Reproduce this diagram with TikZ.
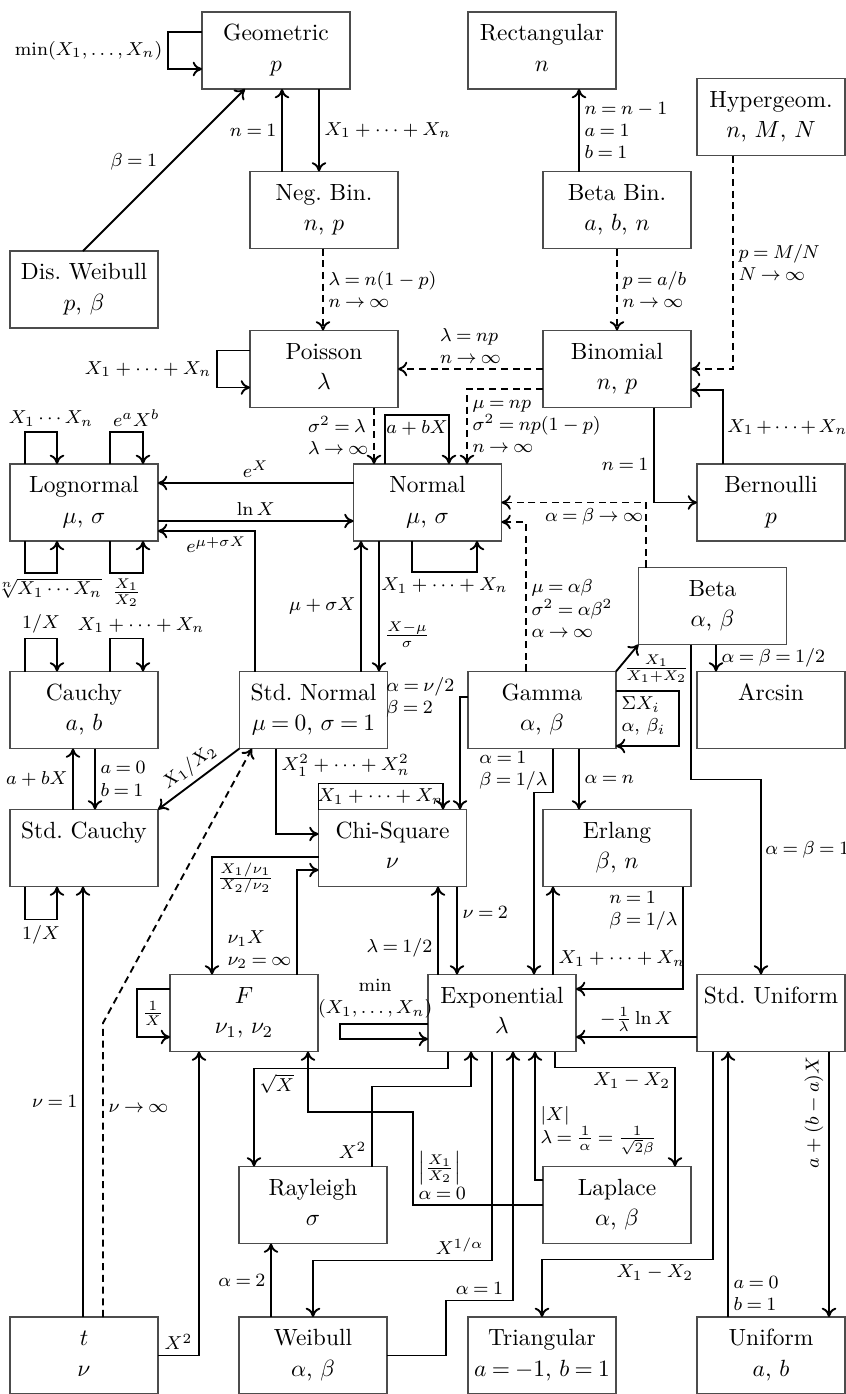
\documentclass[tikz,border=0pt]{standalone}
\usepackage{amsmath}
\usepackage{amssymb}
\usetikzlibrary{arrows.meta,calc}
\newcommand{\distbox}[2]{\strut #1\\[1pt]\strut #2}
\thickmuskip=4mu plus 2mu

\begin{document}
\begin{tikzpicture}[
    x=0.15mm, y=-0.15mm,
    dist/.style={rectangle, draw=black!70, line width=0.6pt, minimum width=22.2mm, minimum height=11.55mm, inner sep=0pt, outer sep=0pt, align=center},
    arrow/.style={thick,->,>={Computer Modern Rightarrow[length=1.4mm,width=2.2mm]}},
    limit/.style={arrow, densely dashed},
    lbl/.style={font=\footnotesize, inner sep=2pt, align=left}
]
    \useasboundingbox (0,0) rectangle (846,1394);

    \node (geo) [dist] at (276,50.5) {\distbox{Geometric}{$p$}};
    \node (rect) [dist] at (542,50.5) {\distbox{Rectangular}{$n$}};
    \node (hyper) [dist] at (771,117) {\distbox{Hypergeom.}{$n$, $M$, $N$}};
    \node (negbin) [dist] at (324,210) {\distbox{Neg.\ Bin.}{$n$, $p$}};
    \node (betabin) [dist] at (617,210) {\distbox{Beta Bin.}{$a$, $b$, $n$}};
    \node (disw) [dist] at (84,289.5) {\distbox{Dis.\ Weibull}{$p$, $\beta$}};
    \node (poisson) [dist] at (324,369) {\distbox{Poisson}{$\lambda$}};
    \node (binom) [dist] at (617,369) {\distbox{Binomial}{$n$, $p$}};
    \node (logn) [dist] at (84,502.5) {\distbox{Lognormal}{$\mu$, $\sigma$}};
    \node (normal) [dist] at (427.5,502.5) {\distbox{Normal}{$\mu$, $\sigma$}};
    \node (bern) [dist] at (771,502.5) {\distbox{Bernoulli}{$p$}};
    \node (beta) [dist] at (712.5,606) {\distbox{Beta}{$\alpha$, $\beta$}};
    \node (cauchy) [dist] at (84,710) {\distbox{Cauchy}{$a$, $b$}};
    \node (stdn) [dist] at (313.5,710) {\distbox{Std.\ Normal}{$\mu=0$, $\sigma=1$}};
    \node (gamma) [dist] at (542,710) {\distbox{Gamma}{$\alpha$, $\beta$}};
    \node (arcsin) [dist] at (771,710) {\distbox{Arcsin}{}};
    \node (stdc) [dist] at (84,848) {\distbox{Std.\ Cauchy}{}};
    \node (chi) [dist] at (392.5,848) {\distbox{Chi-Square}{$\nu$}};
    \node (erlang) [dist] at (617,848) {\distbox{Erlang}{$\beta$, $n$}};
    \node (fdist) [dist] at (244,1013) {\distbox{$F$}{$\nu_1$, $\nu_2$}};
    \node (expo) [dist] at (502,1013) {\distbox{Exponential}{$\lambda$}};
    \node (stdu) [dist] at (771,1013) {\distbox{Std.\ Uniform}{}};
    \node (ray) [dist] at (313,1205) {\distbox{Rayleigh}{$\sigma$}};
    \node (lap) [dist] at (617,1205) {\distbox{Laplace}{$\alpha$, $\beta$}};
    \node (tdist) [dist] at (84,1355.5) {\distbox{$t$}{$\nu$}};
    \node (weib) [dist] at (313,1355.5) {\distbox{Weibull}{$\alpha$, $\beta$}};
    \node (tri) [dist] at (542,1355.5) {\distbox{Triangular}{$a=-1$, $b=1$}};
    \node (unif) [dist] at (771,1355.5) {\distbox{Uniform}{$a$, $b$}};

    % geometric, negative binomial
    \draw [arrow] ($(geo.west)+(0,-18.5)$) -- ++(-34,0) |- node[lbl,pos=0.25,left]{$\min(X_1, \ldots, X_n)$} ($(geo.west)+(0,18.5)$);
    \draw [arrow] ($(disw.north)+(-1,0)$) -- node[lbl,pos=0.55,left=4pt]{$\beta=1$} ($(geo.south)+(-31,0)$);
    \draw [arrow] ($(negbin.north)+(-42,0)$) coordinate (p) -- node[lbl,left]{$n=1$} (p |- geo.south);
    \draw [arrow] ($(geo.south)+(43,0)$) coordinate (p) -- node[lbl,right]{$X_1+\cdots+X_n$} (p |- negbin.north);
    \draw [limit] ($(negbin.south)+(-1,0)$) coordinate (p) -- node[lbl,right]{$\lambda=n(1-p)$\\$n\to\infty$} (p |- poisson.north);

    % beta binomial, hypergeometric
    \draw [arrow] ($(betabin.north)+(-38,0)$) coordinate (p) -- node[lbl,right]{$n=n-1$\\$a=1$\\$b=1$} (p |- rect.south);
    \draw [limit] (betabin.south) -- node[lbl,right]{$p=a/b$\\$n\to\infty$} (binom.north);
    \draw [limit] ($(hyper.south)+(-38,0)$) |- node[lbl,pos=0.25,right]{$p=M/N$\\$N\to\infty$} (binom.east);

    % poisson, binomial
    \draw [arrow] ($(poisson.west)+(0,-18.5)$) -- ++(-33,0) |- node[lbl,pos=0.25,left]{$X_1+\cdots+X_n$} ($(poisson.west)+(0,18.5)$);
    \draw [limit] (binom.west) -- node[lbl,above]{$\lambda=np$\\$n\to\infty$} (poisson.east);
    \draw [limit] ($(binom.west)+(0,20)$) -| node[lbl,pos=0.75,right]{$\mu=np$\\$\sigma^2=np(1-p)$\\$n\to\infty$} ($(normal.north)+(39.5,0)$);
    \draw [limit] ($(poisson.south)+(50,0)$) coordinate (p) -- node[lbl,left]{$\sigma^2=\lambda$\\$\lambda\to\infty$} (p |- normal.north);
    \draw [arrow] ($(binom.south)+(37,0)$) |- node[lbl,pos=0.3,left]{$n=1$} (bern.west);
    \draw [arrow] ($(bern.north)+(-48,0)$) |- node[lbl,pos=0.25,right,inner sep=1.5pt]{\medmuskip=2.5mu $X_1+\cdots+X_n$} ($(binom.east)+(0,21)$);

    % normal, lognormal
    \draw [arrow] ($(normal.north)+(-42.5,0)$) -- ++(0,-49) -| node[lbl,pos=0.25,below]{$a+bX$} ($(normal.north)+(21.5,0)$);
    \draw [arrow] ($(normal.west)+(0,-19.5)$) coordinate (p) -- node[lbl,above]{$e^X$} (p -| logn.east);
    \draw [arrow] ($(logn.east)+(0,18.5)$) coordinate (p) -- node[lbl,above]{$\ln X$} (p -| normal.west);
    \draw [arrow] ($(stdn.north)+(-58.5,0)$) |- node[lbl,pos=0.7,below]{$e^{\mu+\sigma X}$} ($(logn.east)+(0,28.5)$);
    \draw [arrow] ($(logn.north)+(-59,0)$) -- ++(0,-32) -| node[lbl,pos=0.25,above,xshift=1.5mm]{$X_1\cdots X_n$} ($(logn.north)+(-27,0)$);
    \draw [arrow] ($(logn.north)+(26,0)$) -- ++(0,-32) -| node[lbl,pos=0.25,above,xshift=1.5mm]{$e^aX^b$} ($(logn.north)+(59,0)$);
    \draw [arrow] ($(logn.south)+(-59,0)$) -- ++(0,32) -| node[lbl,pos=0.25,below,xshift=1.2mm]{$\sqrt[n]{X_1\cdots X_n}$} ($(logn.south)+(-27,0)$);
    \draw [arrow] ($(logn.south)+(26,0)$) -- ++(0,32) -| node[lbl,pos=0.25,below]{$\frac{X_1}{X_2}$} ($(logn.south)+(59,0)$);
    \draw [arrow] ($(stdn.north)+(47.5,0)$) coordinate (p) -- node[lbl,left]{$\mu+\sigma X$} (p |- normal.south);
    \draw [arrow] ($(normal.south)+(-48.5,0)$) coordinate (p) -- node[lbl,pos=0.72,right]{$\frac{X-\mu}{\sigma}$} (p |- stdn.north);
    \draw [arrow] ($(normal.south)+(-15.5,0)$) -- ++(0,31) -| node[lbl,pos=0.25,below]{$X_1+\cdots+X_n$} ($(normal.south)+(49.5,0)$);

    % cauchy
    \draw [arrow] ($(cauchy.north)+(-59,0)$) -- ++(0,-33) -| node[lbl,pos=0.25,above]{$1/X$} ($(cauchy.north)+(-27,0)$);
    \draw [arrow] ($(cauchy.north)+(26,0)$) -- ++(0,-33) -| node[lbl,pos=0.25,above,xshift=2.2mm]{$X_1+\cdots+X_n$} ($(cauchy.north)+(59,0)$);
    \draw [arrow] ($(stdc.north)+(-11,0)$) coordinate (p) -- node[lbl,left]{$a+bX$} (p |- cauchy.south);
    \draw [arrow] ($(cauchy.south)+(11,0)$) coordinate (p) -- node[lbl,right]{$a=0$\\$b=1$} (p |- stdc.north);
    \draw [arrow] ($(stdc.south)+(-59,0)$) -- ++(0,33) -| node[lbl,pos=0.25,below]{$1/X$} ($(stdc.south)+(-27,0)$);
    \draw [arrow,<-] (stdc.north east) -- node[lbl,sloped,above]{$X_1/X_2$} (stdn.south west);

    % t
    \draw [limit] ($(tdist.north)+(19,0)$) -- node[lbl,pos=0.71,right]{$\nu\to\infty$} ++(0,-294) -- ($(stdn.south)+(-61.5,0)$);
    \draw [arrow] ($(tdist.north)+(-1,0)$) coordinate (p) -- node[lbl,left]{$\nu=1$} (p |- stdc.south);
    \draw [arrow] (tdist.east) -| node[lbl,pos=0.25,above]{$X^2$} ($(fdist.south)+(-45,0)$);

    % chi-square, F
    \draw [arrow] ($(stdn.south)+(-37.5,0)$) |- node[lbl,pos=0.1,right]{$X_1^2+\cdots+X_n^2$} ($(chi.west)+(0,-14)$);
    \draw [arrow] (chi.north west) -- ++(0,-26) -| node[lbl,pos=0.25,below]{$X_1+\cdots+X_n$} ($(chi.north)+(50.5,0)$);
    \draw [arrow] ($(gamma.west)+(0,-13)$) -| node[lbl,pos=0.5,left]{$\alpha=\nu/2$\\$\beta=2$} ($(chi.north)+(67.5,0)$);
    \draw [arrow] ($(chi.west)+(0,9)$) -| node[lbl,pos=0.5,below right]{$\frac{X_1/\nu_1}{X_2/\nu_2}$} ($(fdist.north)+(-32,0)$);
    \draw [arrow] ($(fdist.north)+(53,0)$) |- node[lbl,pos=0.12,left]{$\nu_1X$\\$\nu_2=\infty$} ($(chi.west)+(0,22)$);
    \draw [arrow] ($(fdist.west)+(0,-24)$) -- ++(-33,0) |- node[lbl,pos=0.25,right]{$\frac{1}{X}$} ($(fdist.west)+(0,24)$);
    \draw [arrow] ($(expo.north)+(-64,0)$) coordinate (p) -- node[lbl,pos=0.3,left]{$\lambda=1/2$} (p |- chi.south);
    \draw [arrow] ($(chi.south)+(64.5,0)$) coordinate (p) -- node[lbl,pos=0.29,right]{$\nu=2$} (p |- expo.north);
    \draw [arrow] ($(expo.west)+(0,11)$) -- node[lbl,pos=0.6,above,align=center]{min\\$(X_1,\ldots,X_n)$} ++(-88,0) |- ($(expo.west)+(0,26)$);

    % gamma, beta
    \draw [arrow] ($(gamma.south)+(11,0)$) -- node[lbl,left]{$\alpha=1$\\$\beta=1/\lambda$} ++(0,44) -| ($(expo.north)+(32,0)$);
    \draw [arrow] ($(gamma.south)+(37,0)$) coordinate (p) -- node[lbl,right]{$\alpha=n$} (p |- erlang.north);
    \draw [arrow] ($(gamma.east)+(0,-19)$) -- node[lbl,pos=0,below right]{$\Sigma X_i$\\$\alpha$, $\beta_i$} ++(63,0) |- ($(gamma.east)+(0,36)$);
    \draw [arrow] (gamma.north east) -- node[lbl,pos=0.1,right]{$\frac{X_1}{X_1+X_2}$} (beta.south west);
    \draw [arrow] ($(beta.south)+(3.5,0)$) coordinate (p) -- node[lbl,right]{$\alpha=\beta=1/2$} (p |- arcsin.north);
    \draw [arrow] ($(beta.south)+(-21.5,0)$) -- ++(0,135) -| node[lbl,pos=0.68,right,inner sep=1.5pt]{$\alpha=\beta=1$} ($(stdu.north)+(-10,0)$);
    \draw [limit] ($(beta.north)+(-66.5,0)$) |- node[lbl,pos=0.68,below]{$\alpha=\beta\to\infty$} (normal.east);
    \draw [limit] ($(gamma.north)+(-16,0)$) |- node[lbl,pos=0.21,right]{$\mu=\alpha\beta$\\$\sigma^2=\alpha\beta^2$\\$\alpha\to\infty$} ($(normal.east)+(0,19.5)$);

    % erlang, exponential, uniform
    \draw [arrow] ($(erlang.south)+(66,0)$) |- node[lbl,pos=0.12,left]{$n=1$\\$\beta=1/\lambda$} ($(expo.east)+(0,-24)$);
    \draw [arrow] ($(expo.north)+(51,0)$) coordinate (p) -- node[lbl,pos=0.18,right]{$X_1+\cdots+X_n$} (p |- erlang.south);
    \draw [arrow] ($(stdu.west)+(0,24)$) coordinate (p) -- node[lbl,above]{$-\frac{1}{\lambda}\ln X$} (p -| expo.east);
    \draw [arrow] ($(stdu.south)+(-58,0)$) -- ++(0,208) -| node[lbl,pos=0.17,below]{$X_1-X_2$} (tri.north);
    \draw [arrow] ($(unif.north)+(-43,0)$) coordinate (p) -- node[lbl,pos=0.09,right]{$a=0$\\$b=1$} (p |- stdu.south);
    \draw [arrow] ($(stdu.south)+(58,0)$) coordinate (p) -- node[lbl,pos=0.23,anchor=south,rotate=90]{$a+(b-a)X$} (p |- unif.north);
    \draw [arrow] ($(expo.south)+(53,0)$) -- ++(0,16) -| node[lbl,pos=0.32,below]{$X_1-X_2$} ($(lap.north)+(58,0)$);
    \draw [arrow] ($(lap.west)+(0,-25)$) -| node[lbl,pos=0.69,right]{$|X|$\\$\lambda=\frac{1}{\alpha}=\frac{1}{\sqrt{2}\beta}$} ($(expo.south)+(33,0)$);

    % rayleigh, weibull
    \draw [arrow] ($(expo.south)+(-54,0)$) -- ++(0,17) -| node[lbl,pos=0.5,below right]{$\sqrt{X}$} ($(ray.north)+(-59,0)$);
    \draw [arrow] ($(ray.north)+(59,0)$) -- node[lbl,pos=0.2,left]{$X^2$} ++(0,-80) -| ($(expo.south)+(-31,0)$);
    \draw [arrow] (lap.west) -- ++(-130,0) -- node[lbl,pos=0.32,right]{$\left|\frac{X_1}{X_2}\right|$\\$\alpha = 0$} ++(0,-93) -| ($(fdist.south)+(64,0)$);
    \draw [arrow] ($(expo.south)+(-10,0)$) -- ++(0,209) -| node[lbl,pos=0.09,above]{$X^{1/\alpha}$} (weib.north);
    \draw [arrow] (weib.east) -- ++(59,0) -- ++(0,-55) -| node[lbl,pos=0.25,above]{$\alpha=1$} ($(expo.south)+(11,0)$);
    \draw [arrow] ($(weib.north)+(-42,0)$) coordinate (p) -- node[lbl,left]{$\alpha=2$} (p |- ray.south);
\end{tikzpicture}
\end{document}
